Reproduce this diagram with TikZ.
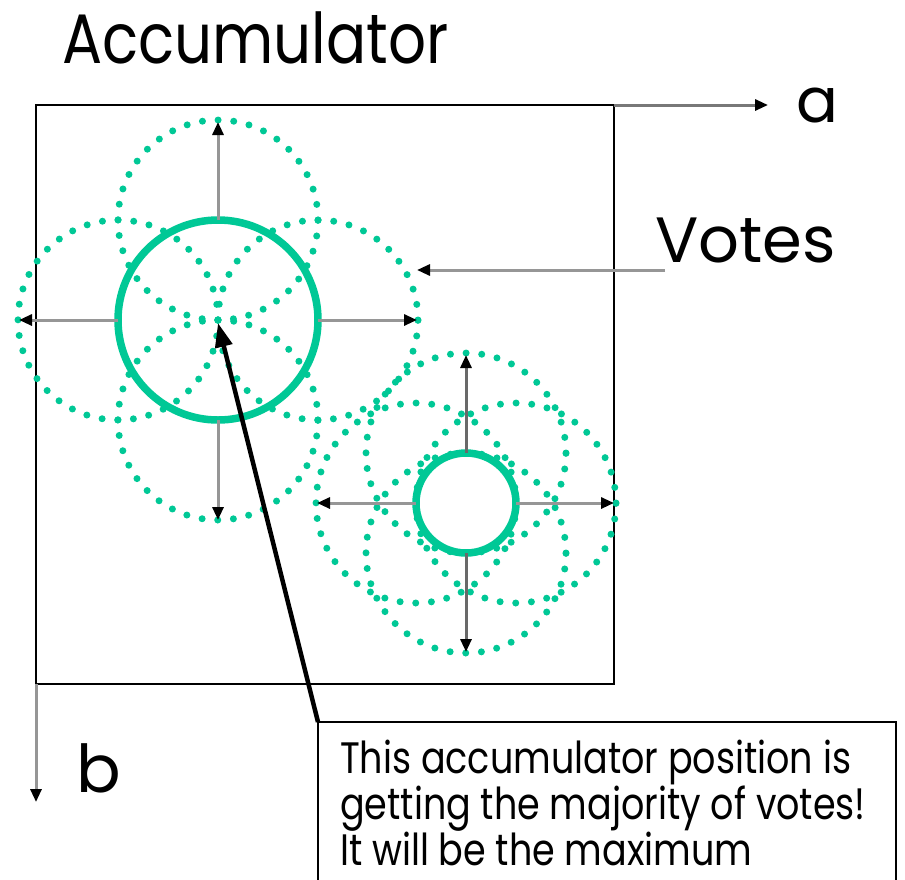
\documentclass[tikz,border=0pt]{standalone}
\usepackage{fontspec}
\setmainfont{Poppins}
\newfontfamily\comic[FakeStretch=0.85]{Poppins}
\newfontfamily\comicbox[FakeStretch=0.83]{Poppins}
\newfontfamily\comicwide{Poppins}
\usetikzlibrary{arrows.meta}
\definecolor{vgreen}{RGB}{0,200,150}
\definecolor{axgray}{RGB}{150,150,150}
\begin{document}
\begin{tikzpicture}[x=1pt,y=-1pt,
  vote/.style={circle, draw=vgreen, line width=7pt, dash pattern=on 0pt off 15.7pt, line cap=round, minimum size=200pt, inner sep=0pt, outer sep=0pt},
  peak/.style={circle, draw=vgreen, line width=7.5pt, inner sep=0pt, outer sep=0pt},
  grayarrow/.style={draw=axgray, line width=3pt, -{Triangle[length=13pt,width=11pt,color=black]}},
  lbl/.style={inner sep=0pt, anchor=base west, font=\comic}]
\useasboundingbox (0,0) rectangle (905,879);
\clip (0,0) rectangle (905,879);

% accumulator box
\node[draw, line width=2.2pt, minimum width=578pt, minimum height=579pt, anchor=north west, inner sep=0pt, outer sep=0pt] (acc) at (36,105) {};

% title and axis labels
\node[lbl, font=\comic\fontsize{70}{70}\selectfont] (title) at (62,63) {Accumulator};
\node[lbl, font=\comicwide\fontsize{62}{62}\selectfont] (alab) at (796,122) {a};
\node[lbl, font=\comicwide\fontsize{66}{66}\selectfont] (blab) at (76,792) {b};
\node[lbl, font=\comicwide\fontsize{64}{64}\selectfont] (votes) at (655,262) {Votes};

% axes
\coordinate (atip) at (768,105);
\coordinate (btip) at (36,802);
\draw[grayarrow, draw=axgray!80!black] (acc.north east) -- (atip);
\draw[grayarrow] (acc.south west) -- (btip);

% big peak: dotted vote circles
\node[vote] (v1t) at (218,220) {};
\node[vote] (v1l) at (118,320) {};
\node[vote] (v1r) at (318,320) {};
\node[vote] (v1b) at (218,420) {};
\node[peak, minimum size=200pt] (P1) at (218,320) {};

% small peak: dotted vote circles
\node[vote] (v2t) at (466,453) {};
\node[vote] (v2l) at (416,503) {};
\node[vote] (v2r) at (516,503) {};
\node[vote] (v2b) at (466,553) {};
\node[peak, minimum size=100pt] (P2) at (466,503) {};

% radial arrows, big peak
\coordinate (P1u) at (218,122);
\coordinate (P1d) at (218,520);
\coordinate (P1l) at (19,320);
\coordinate (P1r) at (417,320);
\draw[grayarrow] (P1.north) -- (P1u);
\draw[grayarrow] (P1.south) -- (P1d);
\draw[grayarrow] (P1.west) -- (P1l);
\draw[grayarrow] (P1.east) -- (P1r);

% radial arrows, small peak
\coordinate (P2u) at (466,355);
\coordinate (P2d) at (466,652);
\coordinate (P2l) at (317,503);
\coordinate (P2r) at (614,503);
\draw[grayarrow, draw=axgray!70!black] (P2.north) -- (P2u);
\draw[grayarrow, draw=axgray!70!black] (P2.south) -- (P2d);
\draw[grayarrow] (P2.west) -- (P2l);
\draw[grayarrow] (P2.east) -- (P2r);

% votes pointer
\coordinate (vstart) at (665,270);
\coordinate (vtip) at (417,270);
\draw[grayarrow] (vstart) -- (vtip);

% annotation box
\node[draw, line width=1.8pt, minimum width=578pt, minimum height=190pt, anchor=north west, inner sep=0pt, outer sep=0pt] (tb) at (318,722) {};
\node[lbl, align=left, font=\comicbox\fontsize{44}{46}\selectfont] (tbt) at (340,865) {This accumulator position is\\getting the majority of votes!\\It will be the maximum};

\coordinate (maxpt) at (218,323);
\draw[line width=4.5pt, -{Triangle[length=24pt,width=17pt]}] (tb.north west) -- (maxpt);
\end{tikzpicture}
\end{document}
